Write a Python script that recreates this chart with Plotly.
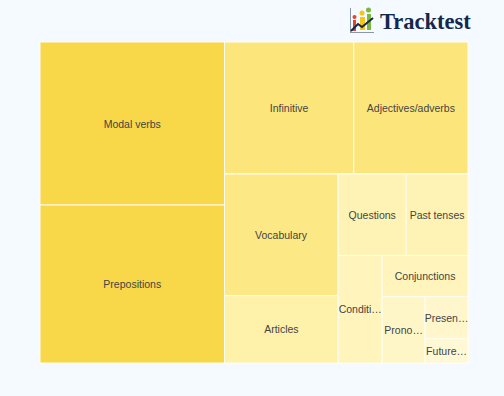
import plotly.graph_objects as go

topics = ["Left", "Modal verbs", "Prepositions", "Right", "Top", "Infinitive", "Adjectives/adverbs",
          "Lower", "Mid", "Vocabulary", "Articles", "Small", "Pair", "Questions", "Past tenses",
          "Tail", "Conditionals", "Tail2", "Conjunctions", "Tail3", "Pronouns", "Tail4", "Present tenses", "Future tenses"]
groups = ["", "Left", "Left", "", "Right", "Top", "Top",
          "Right", "Lower", "Mid", "Mid", "Lower", "Small", "Pair", "Pair",
          "Small", "Tail", "Tail", "Tail2", "Tail2", "Tail3", "Tail3", "Tail4", "Tail4"]
shown = ["", "Modal verbs", "Prepositions", "", "", "Infinitive", "Adjectives/adverbs",
         "", "", "Vocabulary", "Articles", "", "", "Questions", "Past tenses",
         "", "Conditi…", "", "Conjunctions", "", "Prono…", "", "Presen…", "Future…"]
weights = [0, 29992, 29072, 0, 0, 17028, 15048,
           0, 0, 13794, 7638, 0, 0, 5508, 5022,
           0, 4708, 0, 3526, 0, 2838, 0, 1806, 1032]
colors = ["#F8D748", "#F8D748", "#F8D748", "#FCE67C", "#FCE67C", "#FCE67C", "#FCE67C",
          "#FCE985", "#FCE985", "#FCE985", "#FEF1A9", "#FEF3B4", "#FEF3B4", "#FEF3B4", "#FEF3B4",
          "#FEF4BC", "#FEF4BC", "#FEF4BC", "#FEF4BC", "#FFF6C8", "#FFF6C8", "#FFF6CC", "#FFF6CC", "#FFF8D5"]

fig = go.Figure(go.Treemap(
    labels=topics,
    parents=groups,
    values=weights,
    branchvalues="remainder",
    text=shown,
    textinfo="text",
    textposition="middle center",
    textfont=dict(family="Liberation Sans", size=10.5, color="#444444"),
    marker=dict(colors=colors, line=dict(color="#FFFDF0", width=1), pad=dict(t=0, l=0, r=0, b=0), depthfade=False),
    tiling=dict(packing="squarify", squarifyratio=1, pad=0),
    pathbar=dict(visible=False),
    sort=False,
    hoverinfo="label+value",
))

shapes = []
def r(x0, y0, x1, y1, c):
    shapes.append(dict(type="rect", xref="paper", yref="paper", x0=(x0-40)/428, x1=(x1-40)/428,
                       y0=(363-y0)/321, y1=(363-y1)/321, fillcolor=c, line_width=0, layer="above"))
def circ(cx, cy, rad, c):
    shapes.append(dict(type="circle", xref="paper", yref="paper", x0=(cx-rad-40)/428, x1=(cx+rad-40)/428,
                       y0=(363-cy-rad)/321, y1=(363-cy+rad)/321, fillcolor=c, line_width=0, layer="above"))
r(350, 8, 351, 33, "#8a97a8"); r(350, 32, 374, 33, "#8a97a8")
r(353, 20, 356, 31, "#E5432F"); circ(354.5, 17, 2, "#E5432F")
r(360, 17, 365, 30, "#F5C518"); circ(362, 13, 2.5, "#F5C518")
r(367, 14, 371, 30, "#7DB83A"); circ(368.5, 10, 2.5, "#7DB83A")
pts = [(351, 31), (358, 24), (362, 27), (373, 18)]
path = "M " + " L ".join(f"{(x-40)/428},{(363-y)/321}" for x, y in pts)
shapes.append(dict(type="path", xref="paper", yref="paper", path=path, line=dict(color="#12294D", width=2), layer="above"))

fig.update_layout(
    width=504, height=396,
    margin=dict(l=40, r=36, t=42, b=33),
    paper_bgcolor="#F4FAFF",
    shapes=shapes,
    uniformtext=dict(minsize=10.5, mode="show"),
    annotations=[dict(text="<b>Tracktest</b>", xref="paper", yref="paper", x=(378-40)/428, y=(363-21)/321,
                      xanchor="left", yanchor="middle", showarrow=False,
                      font=dict(family="Liberation Serif", size=22.5, color="#12294D"))],
)
fig.write_html("out.html", config=dict(displayModeBar=False),
               post_script="document.body.style.margin='0';document.body.style.background='#F4FAFF';")
